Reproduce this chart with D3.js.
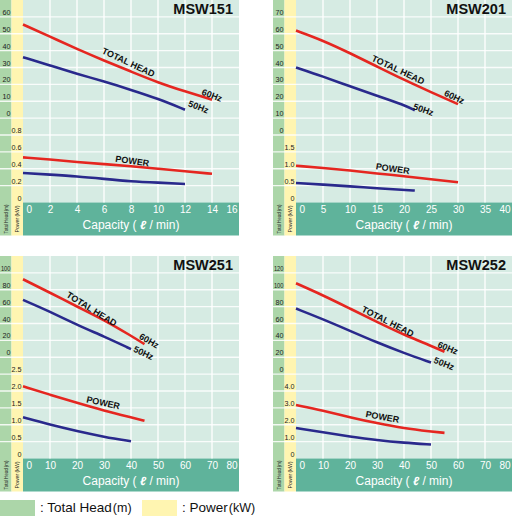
<!DOCTYPE html>
<html>
<head>
<meta charset="utf-8">
<script src="https://cdn.jsdelivr.net/npm/d3@7"></script>
<style>
  body { margin: 0; background: #fff; }
  svg { display: block; font-family: "Liberation Sans", Arial, sans-serif; }
</style>
</head>
<body>
<div class="canvas"></div>
<script>
/*--------------------------------
  DATA
--------------------------------*/
const models = ['MSW151', 'MSW201', 'MSW251', 'MSW252'];

// MSW151
const xTicks151 = [0, 2, 4, 6, 8, 10, 12, 14, 16];
const headTicks151 = [0, 10, 20, 30, 40, 50, 60];
const powerTicks151 = [0, 0.2, 0.4, 0.6, 0.8];
const cap151at60 = [0, 2, 4, 6, 8, 10, 12, 14];
const head151at60 = [55.5, 48.3, 40.9, 34.1, 27.6, 21.1, 15.8, 10.9];
const power151at60 = [0.535, 0.51, 0.48, 0.455, 0.43, 0.4, 0.37, 0.34];
const cap151at50 = [0, 2, 4, 6, 8, 10, 12];
const head151at50 = [36.1, 31.2, 26.3, 21.7, 16.8, 11.5, 5.0];
const power151at50 = [0.35, 0.33, 0.31, 0.28, 0.25, 0.235, 0.22];

// MSW201
const xTicks201 = [0, 5, 10, 15, 20, 25, 30, 35, 40];
const headTicks201 = [0, 10, 20, 30, 40, 50, 60, 70];
const powerTicks201 = [0, 0.5, 1.0, 1.5];
const cap201at60 = [0, 5, 10, 15, 20, 25, 30];
const head201at60 = [61.9, 56.0, 48.5, 40.6, 32.7, 25.4, 18.3];
const power201at60 = [1.09, 1.02, 0.95, 0.86, 0.78, 0.69, 0.6];
const cap201at50 = [0, 5, 10, 15, 20, 22];
const head201at50 = [40.0, 34.7, 28.8, 23.3, 17.9, 14.6];
const power201at50 = [0.58, 0.53, 0.48, 0.42, 0.37, 0.355];

// MSW251
const xTicks251 = [0, 10, 20, 30, 40, 50, 60, 70, 80];
const headTicks251 = [0, 20, 40, 60, 80, 100];
const powerTicks251 = [0, 0.5, 1.0, 1.5, 2.0, 2.5];
const cap251at60 = [0, 10, 20, 30, 40, 45];
const head251at60 = [92.4, 76.6, 60.0, 44.3, 25.5, 15.5];
const power251at60 = [2.14, 1.89, 1.65, 1.42, 1.22, 1.12];
const cap251at50 = [0, 10, 20, 30, 40];
const head251at50 = [68.0, 54.1, 38.4, 24.6, 9.7];
const power251at50 = [1.22, 1.0, 0.81, 0.64, 0.51];

// MSW252
const xTicks252 = [0, 10, 20, 30, 40, 50, 60, 70, 80];
const headTicks252 = [0, 20, 40, 60, 80, 100, 120];
const powerTicks252 = [0, 1.0, 2.0, 3.0, 4.0];
const cap252at60 = [0, 10, 20, 30, 40, 50, 55];
const head252at60 = [107.7, 93.5, 77.7, 61.9, 46.6, 33.6, 26.5];
const power252at60 = [3.17, 2.84, 2.44, 2.09, 1.79, 1.6, 1.52];
const cap252at50 = [0, 10, 20, 30, 40, 50];
const head252at50 = [77.7, 65.1, 51.3, 37.5, 24.9, 13.8];
const power252at50 = [1.81, 1.55, 1.3, 1.08, 0.93, 0.83];

// curve captions: [capacity, value, angle]
const notes151 = { head: [7.8, 33, 25], hz60: [14, 13.5, 21], hz50: [13, 6.6, 21], power: [8.1, 0.49, 8] };
const notes201 = { head: [18.9, 38.6, 25], hz60: [29.3, 22.5, 25], hz50: [23.6, 15, 20], power: [17.9, 1.0, 8] };
const notes251 = { head: [25.4, 57, 32], hz60: [46.7, 19.5, 30], hz50: [44.6, 5, 25], power: [29.7, 1.65, 12] };
const notes252 = { head: [34, 62.3, 27], hz60: [56.2, 30.9, 22], hz50: [54.8, 12.3, 22], power: [32, 2.46, 10] };

const panels = [
  { name: models[0], xTicks: xTicks151, headTicks: headTicks151, powerTicks: powerTicks151,
    c60: cap151at60, h60: head151at60, p60: power151at60,
    c50: cap151at50, h50: head151at50, p50: power151at50, notes: notes151 },
  { name: models[1], xTicks: xTicks201, headTicks: headTicks201, powerTicks: powerTicks201,
    c60: cap201at60, h60: head201at60, p60: power201at60,
    c50: cap201at50, h50: head201at50, p50: power201at50, notes: notes201 },
  { name: models[2], xTicks: xTicks251, headTicks: headTicks251, powerTicks: powerTicks251,
    c60: cap251at60, h60: head251at60, p60: power251at60,
    c50: cap251at50, h50: head251at50, p50: power251at50, notes: notes251 },
  { name: models[3], xTicks: xTicks252, headTicks: headTicks252, powerTicks: powerTicks252,
    c60: cap252at60, h60: head252at60, p60: power252at60,
    c50: cap252at50, h50: head252at50, p50: power252at50, notes: notes252 },
];

/*--------------------------------
  SETUP
--------------------------------*/
const colors = {
  plot: '#d6ebe3', head: '#acd6a9', power: '#fff5b1', band: '#5fb39b',
  red: '#e52620', blue: '#29298c',
};
const colW = 11.5;
const plotX0 = 23;
const plotX1 = 239;
const rows = 12;
const plotH = 202.5;
const rowH = plotH / rows;
const bandH = 33;
const panelH = plotH + bandH;

const svg = d3.select('.canvas')
  .append('svg')
  .attr('width', 512)
  .attr('height', 516);

const lineY = i => i * rowH;
const fmtPower = d => (d === 0 ? '0' : d3.format('.1f')(d));

/*--------------------------------
  DRAW PANELS
--------------------------------*/
panels.forEach((p, i) => {
  const g = svg.append('g')
    .attr('transform', `translate(${(i % 2) * 273}, ${Math.floor(i / 2) * 256})`);

  const x = d3.scaleLinear()
    .domain([p.xTicks[0], p.xTicks[p.xTicks.length - 1]])
    .range([plotX0, plotX1]);
  const yHead = d3.scaleLinear()
    .domain([0, d3.max(p.headTicks)])
    .range([lineY(p.headTicks.length), lineY(1)]);
  const yPower = d3.scaleLinear()
    .domain([0, d3.max(p.powerTicks)])
    .range([lineY(rows), lineY(rows - p.powerTicks.length + 1)]);

  // backgrounds
  g.append('rect').attr('x', 0).attr('y', 0).attr('width', colW).attr('height', panelH)
    .attr('fill', colors.head);
  g.append('rect').attr('x', colW).attr('y', 0).attr('width', plotX0 - colW).attr('height', panelH)
    .attr('fill', colors.power);
  g.append('rect').attr('x', plotX0).attr('y', 0).attr('width', plotX1 - plotX0).attr('height', plotH)
    .attr('fill', colors.plot);
  g.append('rect').attr('x', plotX0).attr('y', plotH).attr('width', plotX1 - plotX0).attr('height', bandH)
    .attr('fill', colors.band);

  // grid
  const grid = g.append('g').attr('stroke', '#fff').attr('stroke-width', 1.3);
  grid.selectAll('.h').data(d3.range(1, rows)).enter().append('line')
    .attr('x1', 0).attr('x2', plotX1)
    .attr('y1', d => lineY(d)).attr('y2', d => lineY(d))
    .attr('stroke-opacity', 0.85);
  grid.selectAll('.v').data(p.xTicks.slice(1, -1)).enter().append('line')
    .attr('x1', d => x(d)).attr('x2', d => x(d))
    .attr('y1', 0).attr('y2', plotH);

  // y axes (labels sit just above their grid line)
  const headAxis = g.append('g')
    .attr('transform', `translate(${colW - 1}, -2.5)`)
    .call(d3.axisLeft(yHead).tickValues(p.headTicks).tickSize(0).tickPadding(0));
  const powerAxis = g.append('g')
    .attr('transform', `translate(${plotX0 - 1.5}, -2.5)`)
    .call(d3.axisLeft(yPower).tickValues(p.powerTicks).tickSize(0).tickPadding(0)
      .tickFormat(fmtPower));
  [headAxis, powerAxis].forEach((a) => {
    a.select('.domain').remove();
    a.selectAll('text')
      .attr('font-family', '"Liberation Sans", Arial, sans-serif')
      .attr('font-size', 8)
      .attr('fill', '#222')
      .attr('dy', '0')
      .attr('x', 0)
      .attr('transform', function () {
        return this.textContent.length > 2 && a === headAxis ? 'scale(0.72,1)' : 'scale(0.9,1)';
      });
  });

  // x axis in the band
  const xAxis = g.append('g')
    .attr('transform', `translate(0, ${plotH})`)
    .call(d3.axisBottom(x).tickValues(p.xTicks).tickSize(0).tickPadding(0));
  xAxis.select('.domain').remove();
  xAxis.selectAll('text')
    .attr('font-family', '"Liberation Sans", Arial, sans-serif')
    .attr('font-size', 10)
    .attr('fill', '#fff')
    .attr('y', 10)
    .attr('dy', 0)
    .attr('text-anchor', (d, k) => (k === 0 ? 'start' : (k === p.xTicks.length - 1 ? 'end' : 'middle')))
    .attr('dx', (d, k) => (k === 0 ? 3 : (k === p.xTicks.length - 1 ? -2 : 0)));

  g.append('text')
    .attr('x', (plotX0 + plotX1) / 2)
    .attr('y', plotH + 26.5)
    .attr('text-anchor', 'middle')
    .attr('fill', '#fff')
    .attr('font-size', 12)
    .html('Capacity ( <tspan font-style="italic" font-weight="bold">ℓ</tspan> / min)');

  // rotated axis names
  g.append('text')
    .attr('transform', `translate(${colW / 2 + 2}, ${plotH + bandH / 2}) rotate(-90)`)
    .attr('text-anchor', 'middle')
    .attr('font-size', 5.5)
    .attr('textLength', 29)
    .attr('lengthAdjust', 'spacingAndGlyphs')
    .attr('fill', '#222')
    .text('Total Head (m)');
  g.append('text')
    .attr('transform', `translate(${colW + (plotX0 - colW) / 2 + 2}, ${plotH + bandH / 2}) rotate(-90)`)
    .attr('text-anchor', 'middle')
    .attr('font-size', 5.5)
    .attr('textLength', 27)
    .attr('lengthAdjust', 'spacingAndGlyphs')
    .attr('fill', '#222')
    .text('Power (kW)');

  // title
  g.append('text')
    .attr('x', plotX1 - 6)
    .attr('y', 13.5)
    .attr('text-anchor', 'end')
    .attr('font-size', 14.5)
    .attr('font-weight', 'bold')
    .attr('fill', '#111')
    .text(p.name);

  // curves
  const series = [
    { c: p.c60, v: p.h60, y: yHead, color: colors.red },
    { c: p.c50, v: p.h50, y: yHead, color: colors.blue },
    { c: p.c60, v: p.p60, y: yPower, color: colors.red },
    { c: p.c50, v: p.p50, y: yPower, color: colors.blue },
  ];
  series.forEach((s) => {
    const line = d3.line()
      .x(d => x(d[0]))
      .y(d => s.y(d[1]))
      .curve(d3.curveBasis);
    g.append('path')
      .datum(d3.zip(s.c, s.v))
      .attr('fill', 'none')
      .attr('stroke', s.color)
      .attr('stroke-width', 2.6)
      .attr('d', line);
  });

  // captions
  const captions = [
    { t: 'TOTAL HEAD', n: p.notes.head, y: yHead },
    { t: '60Hz', n: p.notes.hz60, y: yHead },
    { t: '50Hz', n: p.notes.hz50, y: yHead },
    { t: 'POWER', n: p.notes.power, y: yPower },
  ];
  captions.forEach((c) => {
    g.append('text')
      .attr('transform', `translate(${x(c.n[0])}, ${c.y(c.n[1])}) rotate(${c.n[2]})`)
      .attr('text-anchor', 'middle')
      .attr('dominant-baseline', 'central')
      .attr('font-size', 9)
      .attr('font-weight', 'bold')
      .attr('fill', '#111')
      .text(c.t);
  });
});

/*--------------------------------
  LEGEND
--------------------------------*/
const legend = svg.append('g').attr('transform', 'translate(0, 500)');
legend.append('rect').attr('width', 35).attr('height', 16).attr('fill', colors.head);
legend.append('text').attr('x', 40).attr('y', 12).attr('font-size', 13.5).attr('fill', '#111')
  .html(': Total Head<tspan font-size="12.5" dx="1">(m)</tspan>');
legend.append('rect').attr('x', 142).attr('width', 35).attr('height', 16).attr('fill', colors.power);
legend.append('text').attr('x', 182).attr('y', 12).attr('font-size', 13.5).attr('fill', '#111')
  .html(': Power<tspan font-size="12.5" dx="1">(kW)</tspan>');
</script>
</body>
</html>
